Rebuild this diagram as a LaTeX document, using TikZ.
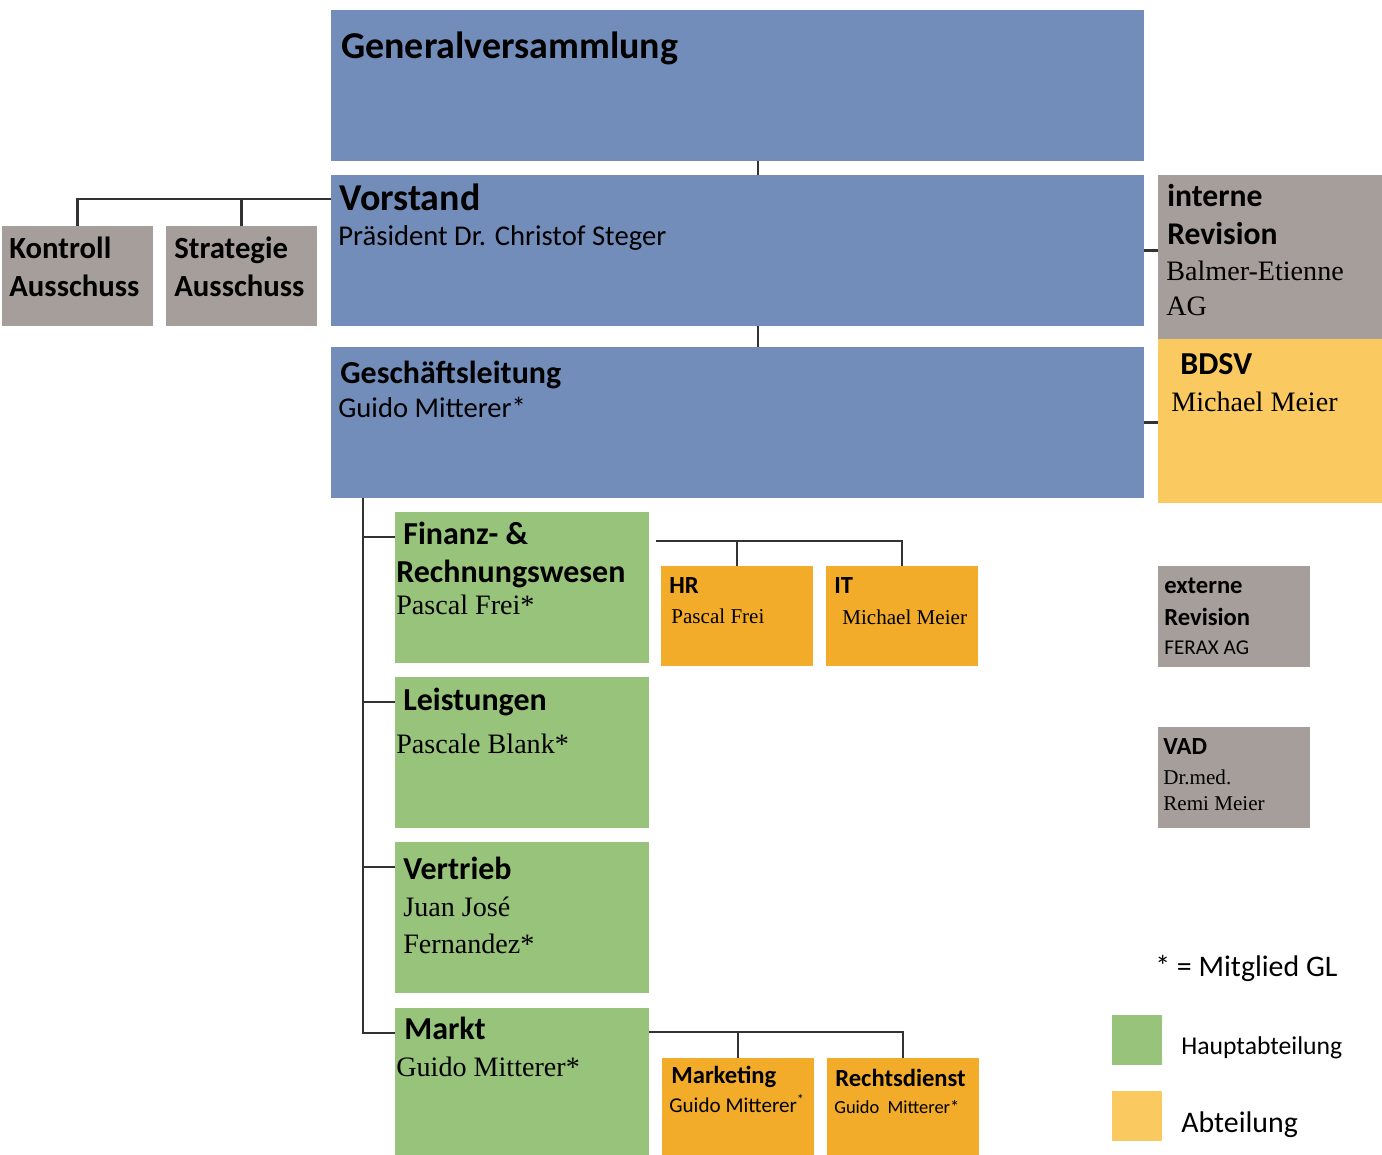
\documentclass[tikz,border=0pt]{standalone}
\usepackage{fontspec}
\setmainfont{Carlito}
\newfontfamily\serifnames{Liberation Serif}
\usetikzlibrary{calc}

\definecolor{orgblue}{RGB}{114,141,185}
\definecolor{orggrey}{RGB}{165,158,155}
\definecolor{orggreen}{RGB}{152,195,122}
\definecolor{orgorange}{RGB}{242,172,42}
\definecolor{orgyellow}{RGB}{250,201,96}

\begin{document}
\begin{tikzpicture}[x=0.02cm,y=-0.02cm,
   box/.style={anchor=north west,inner sep=0pt,outer sep=0pt},
   bluebox/.style={box,fill=orgblue,minimum width=16.26cm,minimum height=3.02cm},
   greybox/.style={box,fill=orggrey,minimum width=3.02cm,minimum height=2cm},
   revbox/.style={box,fill=orggrey,minimum width=4.48cm,minimum height=3.28cm},
   bdsvbox/.style={box,fill=orgyellow,minimum width=4.48cm,minimum height=3.28cm},
   greenbox/.style={box,fill=orggreen,minimum width=5.08cm,minimum height=3.02cm},
   orangebox/.style={box,fill=orgorange,minimum width=3.04cm,minimum height=2cm},
   smallgreybox/.style={box,fill=orggrey,minimum width=3.04cm,minimum height=2.02cm},
   keybox/.style={box,minimum width=1cm,minimum height=1cm},
   txt/.style={anchor=base west,inner sep=0pt,align=left},
   hugebold/.style={font=\bfseries\fontsize{21.6}{25}\selectfont},
   bigbold/.style={font=\bfseries\fontsize{18.2}{21.5}\selectfont},
   smallbold/.style={font=\bfseries\fontsize{14}{18}\selectfont},
   bigsans/.style={font=\fontsize{16.3}{19}\selectfont},
   smallsans/.style={font=\fontsize{12}{15}\selectfont},
   bigserif/.style={font=\serifnames\fontsize{16}{20}\selectfont},
   smallserif/.style={font=\serifnames\fontsize{12}{14.7}\selectfont},
   link/.style={line width=1.3pt,draw=black!80}
]
   \useasboundingbox (0,0) rectangle (1382,1155);

   % boxes
   \node[bluebox] (gv) at (331,10) {};
   \node[bluebox] (vs) at (331,175) {};
   \node[bluebox] (gl) at (331,347) {};
   \node[greybox] (ko) at (2,226) {};
   \node[greybox] (st) at (166,226) {};
   \node[revbox] (ir) at (1158,175) {};
   \node[bdsvbox] (bd) at (1158,339) {};
   \node[greenbox] (fi) at (395,512) {};
   \node[greenbox] (le) at (395,677) {};
   \node[greenbox] (ve) at (395,842) {};
   \node[greenbox] (ma) at (395,1008) {};
   \node[orangebox] (hr) at (661,566) {};
   \node[orangebox] (it) at (826,566) {};
   \node[orangebox] (mk) at (662,1058) {};
   \node[orangebox] (rd) at (827,1058) {};
   \node[smallgreybox] (er) at (1158,566) {};
   \node[smallgreybox] (vad) at (1158,727) {};
   \node[keybox,fill=orggreen] (keyhaupt) at (1112,1015) {};
   \node[keybox,fill=orgyellow] (keyabt) at (1112,1091) {};

   % texts (multi-line texts sit on their last line)
   \node[txt,hugebold] (gvtitle) at (341,59) {Generalversammlung};
   \node[txt,hugebold] (vstitle) at (339,211) {Vorstand};
   \node[txt,bigsans] (vsname) at (338,246) {Präsident Dr. Christof Steger};
   \node[txt,bigbold] (gltitle) at (340,383) {Geschäftsleitung};
   \node[txt,bigsans] (glname) at (338,417) {Guido Mitterer*};
   \node[txt,bigbold,font=\bfseries\fontsize{17.5}{22}\selectfont] (kotitle) at (9,297) {Kontroll\\Ausschuss};
   \node[txt,bigbold,font=\bfseries\fontsize{17.5}{22}\selectfont] (sttitle) at (174,297) {Strategie\\Ausschuss};
   \node[txt,bigbold,font=\bfseries\fontsize{18}{22}\selectfont] (irtitle) at (1167,245) {interne\\Revision};
   \node[txt,bigserif] (irname) at (1166,316) {Balmer-Etienne\\AG};
   \node[txt,bigbold] (bdtitle) at (1180,375) {BDSV};
   \node[txt,bigserif] (bdname) at (1171,411) {Michael Meier};
   \node[txt,bigbold] (fititle) at (396,582) {\hspace*{0.14cm}Finanz- \&\\Rechnungswesen};
   \node[txt,bigserif] (finame) at (396,614) {Pascal Frei*};
   \node[txt,bigbold] (letitle) at (403,710) {Leistungen};
   \node[txt,bigserif] (lename) at (396,753) {Pascale Blank*};
   \node[txt,bigbold] (vetitle) at (403,879) {Vertrieb};
   \node[txt,bigserif,font=\serifnames\fontsize{16}{20.5}\selectfont] (vename) at (403,953) {Juan José\\Fernandez*};
   \node[txt,bigbold] (matitle) at (404,1039) {Markt};
   \node[txt,bigserif] (maname) at (396,1076) {Guido Mitterer*};
   \node[txt,smallbold] (hrtitle) at (669,593) {HR};
   \node[txt,smallserif] (hrname) at (671,623) {Pascal Frei};
   \node[txt,smallbold] (ittitle) at (834,593) {IT};
   \node[txt,smallserif] (itname) at (842,624) {Michael Meier};
   \node[txt,smallbold] (mktitle) at (671,1083) {Marketing};
   \node[txt,smallsans] (mkname) at (669,1112) {Guido Mitterer\textsuperscript{*}};
   \node[txt,smallbold] (rdtitle) at (835,1086) {Rechtsdienst};
   \node[txt,font=\fontsize{10.5}{13}\selectfont] (rdname) at (834,1113) {Guido\ \ Mitterer*};
   \node[txt,smallbold] (ertitle) at (1164,625) {externe\\Revision};
   \node[txt,smallsans] (ername) at (1164,654) {FERAX AG};
   \node[txt,smallbold] (vadtitle) at (1163,754) {VAD};
   \node[txt,smallserif] (vadname) at (1163,810) {Dr.med.\\Remi Meier};
   \node[txt,font=\fontsize{17}{20}\selectfont] (keystar) at (1155,976) {* = Mitglied GL};
   \node[txt,font=\fontsize{14.6}{17}\selectfont] (keyhaupttxt) at (1181,1054) {Hauptabteilung};
   \node[txt,font=\fontsize{17}{20}\selectfont] (keyabttxt) at (1181,1132) {Abteilung};

   % connectors
   \coordinate (spine) at (758,0);
   \draw[link] (gv.south -| spine) -- (vs.north -| spine);
   \draw[link] (vs.south -| spine) -- (gl.north -| spine);
   \draw[link] (ko.north) |- ($(vs.north west)+(0,24)$);
   \draw[link] (st.north) -- ++(0,-27);
   \draw[link] (vs.east) -- (vs.east -| ir.west);
   \draw[link] (gl.east) -- (gl.east -| bd.west);
   \foreach \b in {fi,le,ve,ma}
      \draw[link] ($(gl.south west)+(32,0)$) |- ($(\b.north west)+(0,25)$);
   \draw[link] ($(fi.north east)+(7,29)$) -| (it.north);
   \draw[link] (hr.north) -- ++(0,-25);
   \draw[link] ($(ma.north east)+(0,24)$) -| (rd.north);
   \draw[link] (mk.north) -- ++(0,-26);
\end{tikzpicture}
\end{document}
